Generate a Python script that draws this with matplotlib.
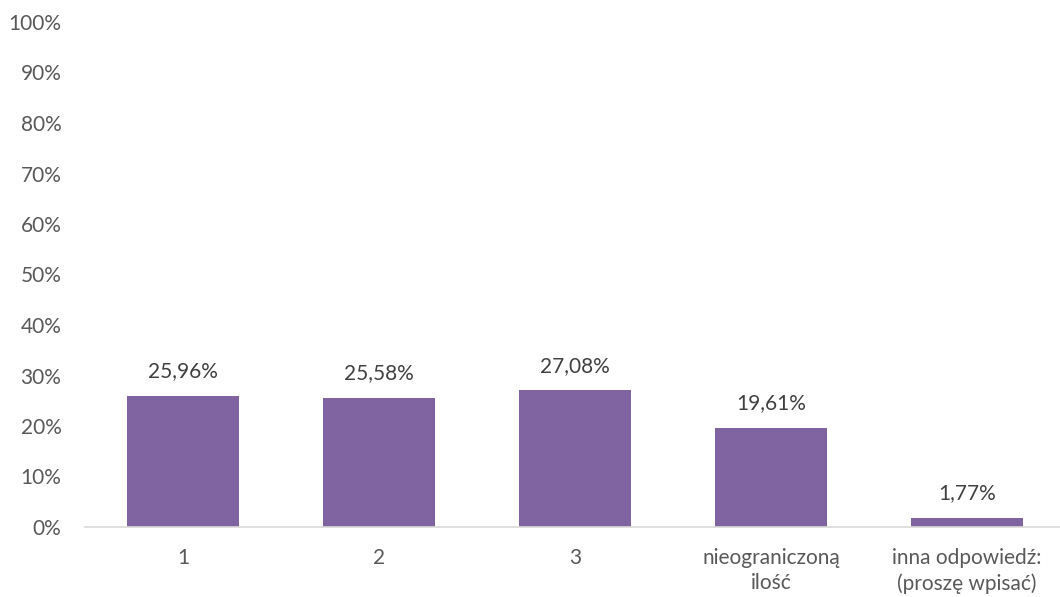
import numpy as np
import matplotlib.pyplot as plt

categories = ["1", "2", "3", "nieograniczoną\nilość", "inna odpowiedź:\n(proszę wpisać)"]
values = [25.96, 25.58, 27.08, 19.61, 1.77]

plt.rcParams['font.family'] = ['Lato', 'DejaVu Sans']

fig = plt.figure(figsize=(10.6, 5.97), dpi=100)
ax = fig.add_axes([85 / 1060, 70 / 597, 980 / 1060, 505 / 597])

x = np.arange(len(categories))
ax.bar(x, values, width=0.57, color="#8064A2")

for xi, v in zip(x, values):
    ax.text(xi, v + 2.9, f"{v:.2f}%".replace(".", ","), ha="center", va="bottom",
            fontsize=15, color="#404040")

ax.set_xlim(-0.5, 4.5)
ax.set_ylim(0, 100)
ax.set_yticks(np.arange(0, 101, 10))
ax.set_yticklabels([f"{t}%" for t in range(0, 101, 10)])
ax.set_xticks(x)
ax.set_xticklabels(categories, linespacing=1.35)

for s in ["top", "right", "left"]:
    ax.spines[s].set_visible(False)
ax.spines["bottom"].set_color("#D9D9D9")
ax.spines["bottom"].set_linewidth(1.2)
ax.tick_params(axis="both", length=0, labelsize=15, colors="#595959")
ax.tick_params(axis="y", pad=17)
ax.tick_params(axis="x", pad=15)

fig.savefig("out.png", dpi=100)
